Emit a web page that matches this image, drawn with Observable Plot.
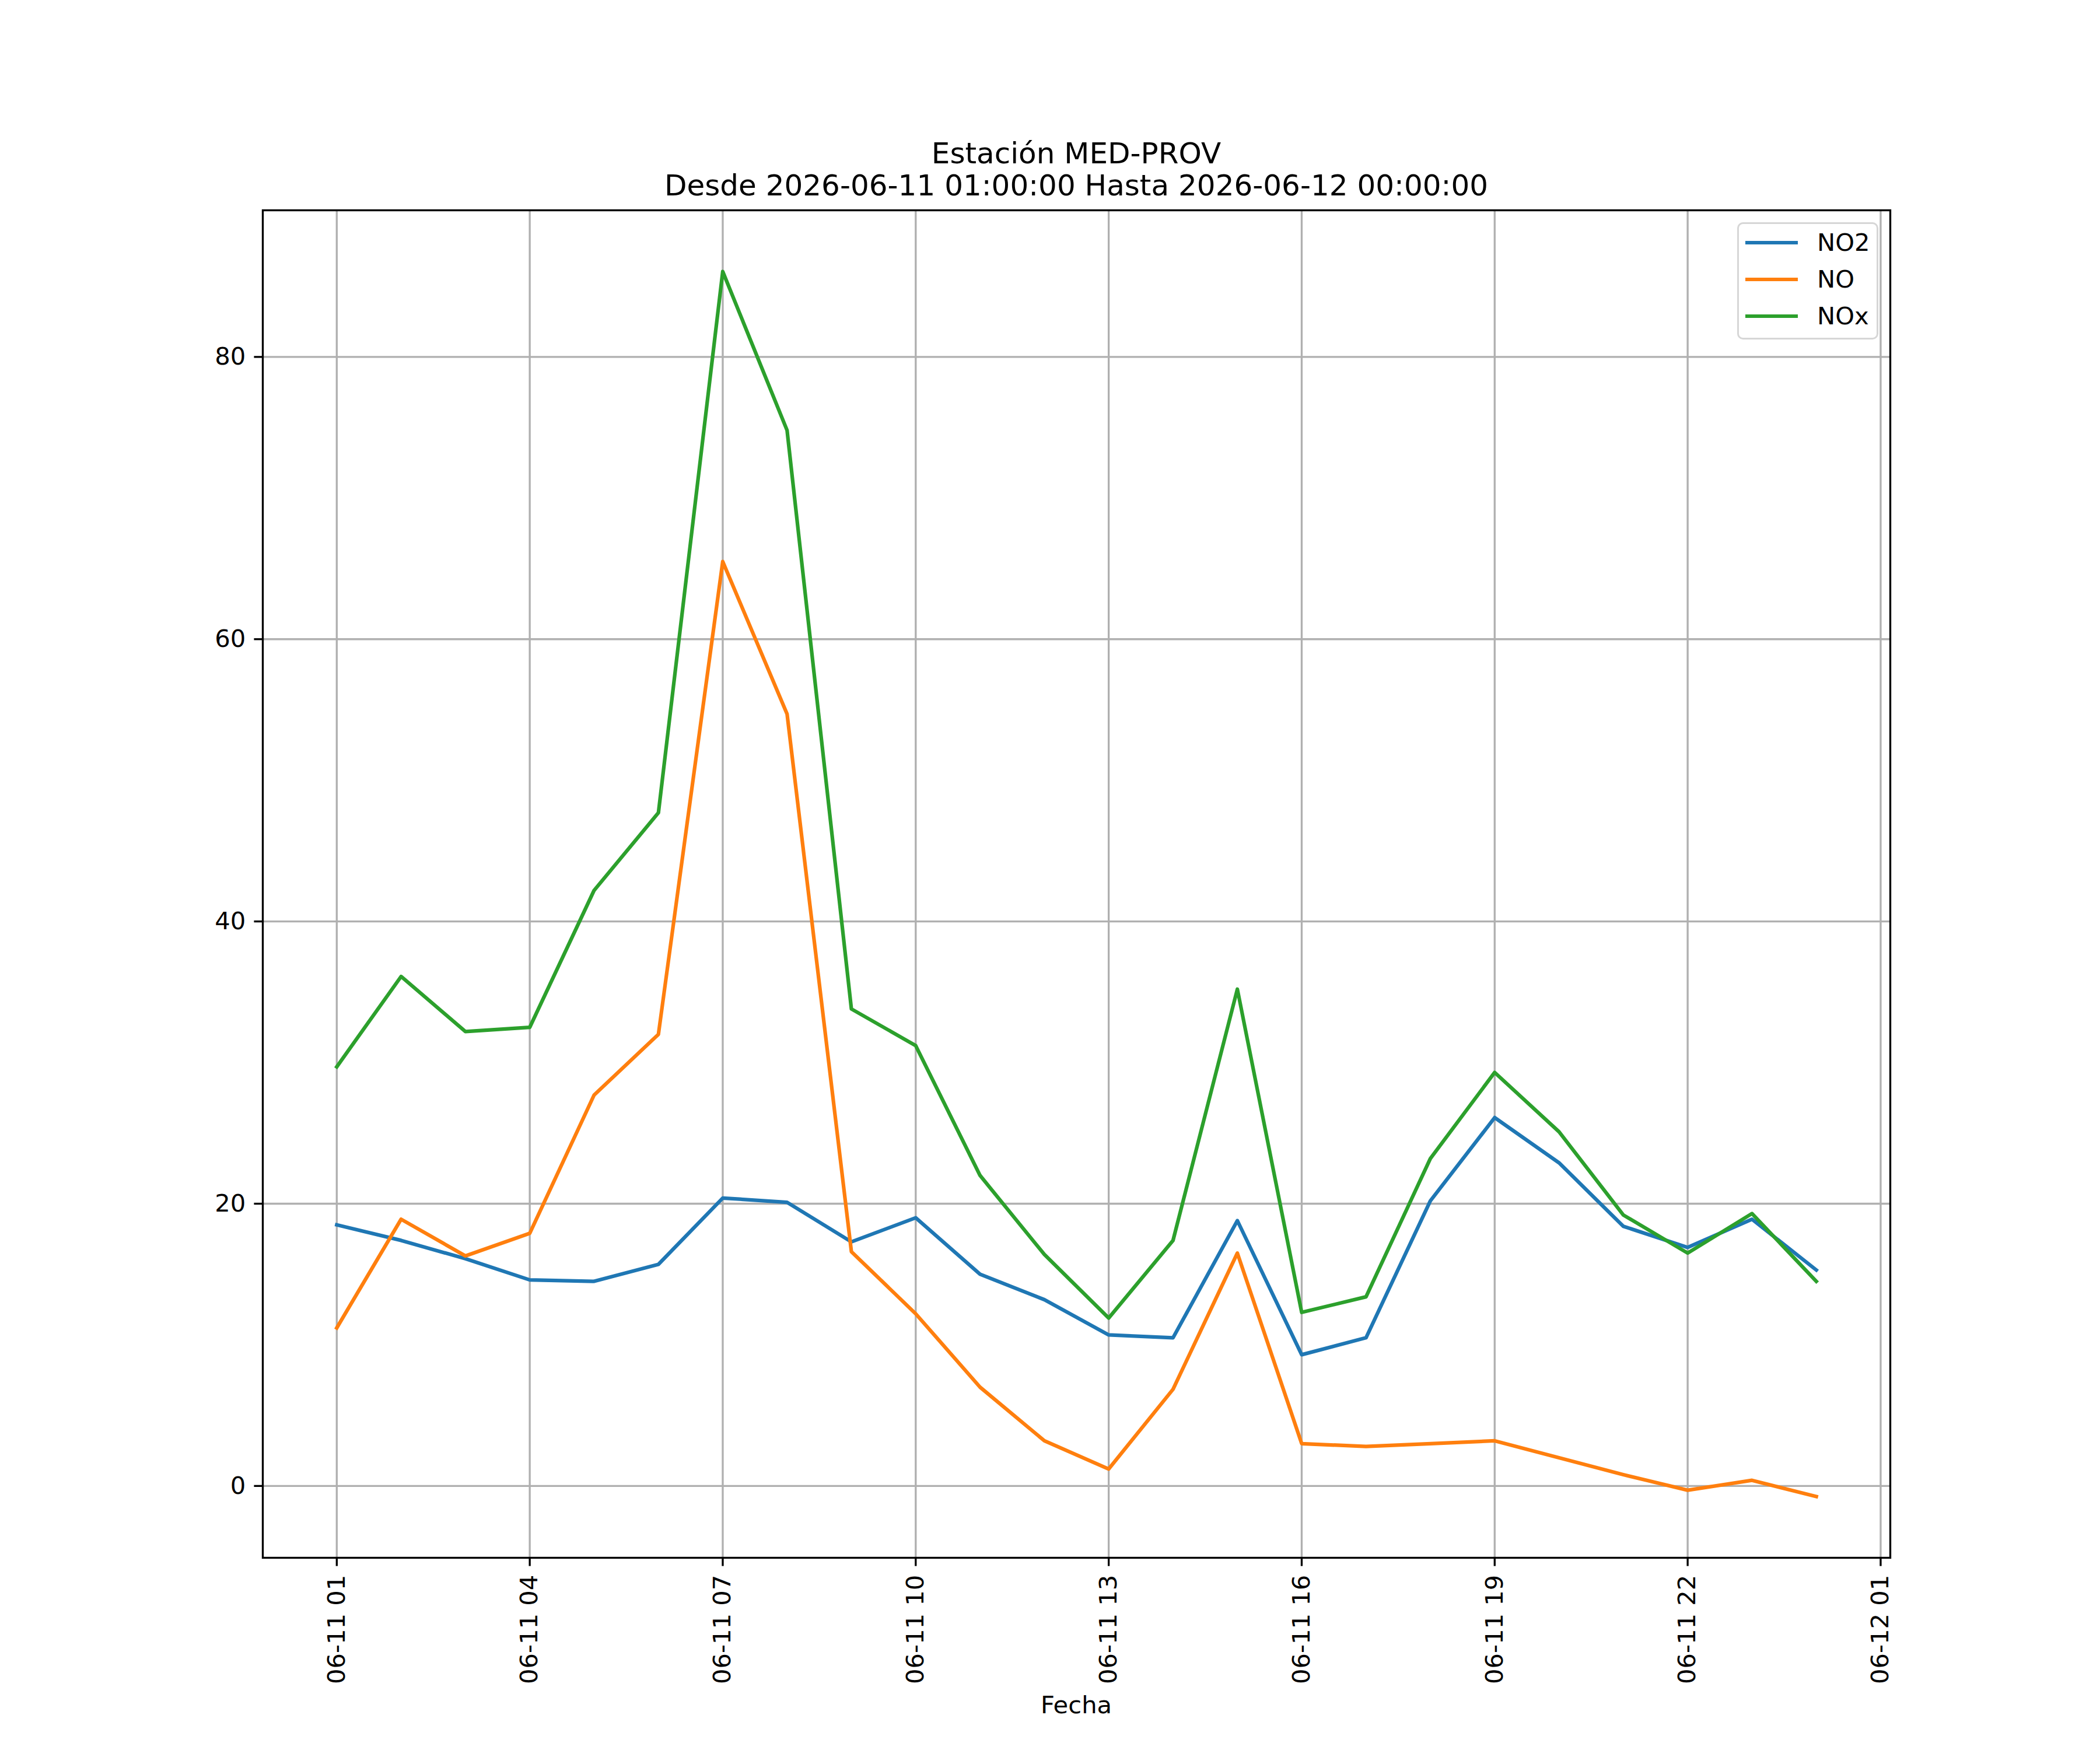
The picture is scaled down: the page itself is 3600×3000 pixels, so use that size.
<!DOCTYPE html>
<html>
<head>
<meta charset="utf-8">
<script src="https://cdn.jsdelivr.net/npm/d3@7"></script>
<script src="https://cdn.jsdelivr.net/npm/@observablehq/plot@0.6"></script>
<style>
html, body { margin: 0; padding: 0; background: #fff; }
#fig { position: relative; width: 3600px; height: 3000px; font-family: "DejaVu Sans", sans-serif; color: #000; }
#fig svg { position: absolute; left: 0; top: 0; }
.abs { position: absolute; white-space: nowrap; }
</style>
</head>
<body>
<div id="fig"></div>
<script>
// ---- data ----
const times = [
  "2026-06-11T01:00:00Z","2026-06-11T02:00:00Z","2026-06-11T03:00:00Z","2026-06-11T04:00:00Z",
  "2026-06-11T05:00:00Z","2026-06-11T06:00:00Z","2026-06-11T07:00:00Z","2026-06-11T08:00:00Z",
  "2026-06-11T09:00:00Z","2026-06-11T10:00:00Z","2026-06-11T11:00:00Z","2026-06-11T12:00:00Z",
  "2026-06-11T13:00:00Z","2026-06-11T14:00:00Z","2026-06-11T15:00:00Z","2026-06-11T16:00:00Z",
  "2026-06-11T17:00:00Z","2026-06-11T18:00:00Z","2026-06-11T19:00:00Z","2026-06-11T20:00:00Z",
  "2026-06-11T21:00:00Z","2026-06-11T22:00:00Z","2026-06-11T23:00:00Z","2026-06-12T00:00:00Z"
];
const no2 = [18.5,17.4,16.1,14.6,14.5,15.7,20.4,20.1,17.3,19.0,15.0,13.2,10.7,10.5,18.8,9.3,10.5,20.2,26.1,22.9,18.4,16.9,18.9,15.3];
const no  = [11.2,18.9,16.3,17.9,27.7,32.0,65.5,54.7,16.6,12.2,7.0,3.2,1.2,6.85,16.5,3.0,2.8,3.0,3.2,2.0,0.8,-0.3,0.4,-0.75];
const nox = [29.7,36.1,32.2,32.5,42.2,47.7,86.05,74.8,33.8,31.2,22.0,16.4,11.9,17.4,35.2,12.3,13.4,23.2,29.3,25.1,19.2,16.5,19.3,14.5];
const seriesNames = ["NO2", "NO", "NOx"];
const seriesColors = ["#1f77b4", "#ff7f0e", "#2ca02c"];
const xTicks = [
  "2026-06-11T01:00:00Z","2026-06-11T04:00:00Z","2026-06-11T07:00:00Z","2026-06-11T10:00:00Z",
  "2026-06-11T13:00:00Z","2026-06-11T16:00:00Z","2026-06-11T19:00:00Z","2026-06-11T22:00:00Z",
  "2026-06-12T01:00:00Z"
];
const yTicks = [0, 20, 40, 60, 80];
const titleLines = ["Estación MED-PROV", "Desde 2026-06-11 01:00:00 Hasta 2026-06-12 00:00:00"];
const xLabel = "Fecha";

// ---- build table ----
const valuesBySeries = [no2, no, nox];
const rows = [];
seriesNames.forEach((s, si) => {
  times.forEach((t, i) => rows.push({ series: s, date: new Date(t), value: valuesBySeries[si][i] }));
});
const tickDates = xTicks.map(t => new Date(t));

// matplotlib-like 5% margins
const xExt = d3.extent(rows, d => +d.date);
const xPad = (xExt[1] - xExt[0]) * 0.05;
const yExt = d3.extent(rows, d => d.value);
const yPad = (yExt[1] - yExt[0]) * 0.05;

const FS = 41.67;
const TICK = 14.6;
const LW = 3.33;

const chart = Plot.plot({
  width: 3600,
  height: 3000,
  marginLeft: 450,
  marginRight: 360,
  marginTop: 360,
  marginBottom: 330,
  style: { fontFamily: "DejaVu Sans", fontSize: FS + "px", background: "transparent", color: "#000", overflow: "visible" },
  x: { type: "utc", domain: [new Date(xExt[0] - xPad), new Date(xExt[1] + xPad)] },
  y: { domain: [yExt[0] - yPad, yExt[1] + yPad] },
  color: { domain: seriesNames, range: seriesColors },
  marks: [
    Plot.gridX(tickDates, { stroke: "#b0b0b0", strokeOpacity: 1, strokeWidth: LW }),
    Plot.gridY(yTicks, { stroke: "#b0b0b0", strokeOpacity: 1, strokeWidth: LW }),
    Plot.line(rows, { x: "date", y: "value", z: "series", stroke: "series", strokeWidth: 6.25, strokeLinejoin: "round", strokeLinecap: "square" }),
    Plot.frame({ stroke: "#000", strokeWidth: LW }),
    Plot.axisX(tickDates, {
      tickFormat: d3.utcFormat("%m-%d %H"),
      tickRotate: -90,
      tickSize: TICK,
      tickPadding: TICK,
      strokeWidth: LW,
      fontSize: FS,
      label: null
    }),
    Plot.axisY(yTicks, {
      tickSize: TICK,
      tickPadding: TICK,
      strokeWidth: LW,
      fontSize: FS,
      label: null
    })
  ]
});

const fig = document.getElementById("fig");
fig.appendChild(chart);

// title (two lines, centered over axes)
const titleTops = [238, 293];
titleLines.forEach((txt, i) => {
  const d = document.createElement("div");
  d.className = "abs";
  d.textContent = txt;
  Object.assign(d.style, { left: "450px", width: "2790px", top: titleTops[i] + "px", textAlign: "center", fontSize: "50px", lineHeight: "50px" });
  fig.appendChild(d);
});

// x label
const xl = document.createElement("div");
xl.className = "abs";
xl.textContent = xLabel;
Object.assign(xl.style, { left: "450px", width: "2790px", top: "2902px", textAlign: "center", fontSize: FS + "px", lineHeight: FS + "px" });
fig.appendChild(xl);

// legend
const leg = document.createElement("div");
leg.className = "abs";
Object.assign(leg.style, {
  left: "2978px", top: "381px", width: "236px", height: "195px",
  border: "3.3px solid #d6d6d6", borderRadius: "10px", background: "rgba(255,255,255,0.8)"
});
fig.appendChild(leg);
seriesNames.forEach((s, i) => {
  const cy = 416 + i * 63; // absolute centre of handle
  const h = document.createElement("div");
  h.className = "abs";
  Object.assign(h.style, { left: "2992px", top: (cy - 3.1) + "px", width: "90px", height: "6.25px", background: seriesColors[i] });
  fig.appendChild(h);
  const t = document.createElement("div");
  t.className = "abs";
  t.textContent = s;
  Object.assign(t.style, { left: "3115px", top: (cy + 14.5 - 35.25) + "px", fontSize: FS + "px", lineHeight: FS + "px" });
  fig.appendChild(t);
});
</script>
</body>
</html>
